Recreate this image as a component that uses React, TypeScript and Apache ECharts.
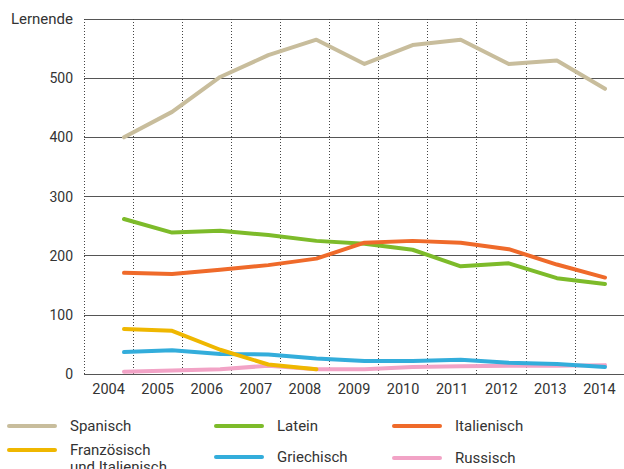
import React, { useEffect, useRef } from "react";
import * as echarts from "echarts";

const years = ["2004", "2005", "2006", "2007", "2008", "2009", "2010", "2011", "2012", "2013", "2014"];
const spanisch = [400, 443, 502, 539, 565, 524, 556, 565, 524, 530, 482];
const latein = [262, 239, 242, 235, 225, 220, 210, 182, 187, 162, 152];
const italienisch = [171, 169, 176, 184, 195, 222, 225, 222, 211, 185, 163];
const franzoesisch: (number | null)[] = [76, 73, 41, 16, 8, null, null, null, null, null, null];
const griechisch = [37, 40, 34, 33, 26, 22, 22, 24, 19, 17, 12];
const russisch = [4, 6, 8, 14, 8, 8, 12, 13, 14, 14, 15];
const yTicks = [0, 100, 200, 300, 400, 500, 600];

const FONT = "Roboto, 'Noto Sans', sans-serif";

export default function App() {
  const ref = useRef<HTMLDivElement>(null);
  useEffect(() => {
    if (!ref.current) return;
    const chart = echarts.init(ref.current, null, { renderer: "svg" });
    const seriesDefs = [
      { name: "Spanisch", data: spanisch, color: "#c8bd9c" },
      { name: "Russisch", data: russisch, color: "#f2a3c6" },
      { name: "Griechisch", data: griechisch, color: "#33addb" },
      { name: "Französisch\nund Italienisch", data: franzoesisch, color: "#efb700" },
      { name: "Latein", data: latein, color: "#7dbb2a" },
      { name: "Italienisch", data: italienisch, color: "#ef6a2a" },
    ];
    const legendItems = [
      { name: "Spanisch", color: "#c8bd9c", x: 7, y: 426 },
      { name: "Französisch\nund Italienisch", color: "#efb700", x: 7, y: 450 },
      { name: "Latein", color: "#7dbb2a", x: 214, y: 426 },
      { name: "Griechisch", color: "#33addb", x: 214, y: 457 },
      { name: "Italienisch", color: "#ef6a2a", x: 392, y: 426 },
      { name: "Russisch", color: "#f2a3c6", x: 392, y: 458 },
    ];
    const graphic: any[] = [];
    legendItems.forEach((it) => {
      graphic.push({
        type: "line",
        shape: { x1: it.x + 2, y1: it.y, x2: it.x + 48, y2: it.y },
        style: { stroke: it.color, lineWidth: 4, lineCap: "round" },
      });
      graphic.push({
        type: "text",
        x: it.x + 63,
        y: it.y - 9,
        style: {
          text: it.name,
          fill: "#333",
          font: `15px ${FONT}`,
          lineHeight: 17,
          textVerticalAlign: "top",
        },
      });
    });
    chart.setOption({
      animation: false,
      grid: [
        { left: 84, top: 19, width: 544, height: 355, containLabel: false },
        { left: 124, top: 19, width: 481, height: 355, containLabel: false },
      ],
      xAxis: [
        {
          type: "category",
          gridIndex: 0,
          data: years,
          boundaryGap: true,
          axisLine: { show: false },
          axisTick: { show: false },
          axisLabel: { color: "#333", fontSize: 14.5, fontFamily: FONT, margin: 8 },
          splitLine: { show: true, lineStyle: { type: [1, 2], color: "#444", width: 1 } },
        },
        {
          type: "category",
          gridIndex: 1,
          data: years,
          boundaryGap: false,
          show: false,
        },
      ],
      yAxis: [
        {
          type: "value",
          gridIndex: 0,
          min: 0,
          max: 600,
          interval: 100,
          axisLine: { show: false },
          axisTick: { show: false },
          axisLabel: {
            color: "#333",
            fontSize: 14,
            fontFamily: FONT,
            margin: 11,
            formatter: (v: number) => (v === yTicks[yTicks.length - 1] ? "{t|Lernende}" : String(v)),
            rich: { t: { fontSize: 15, fontFamily: FONT, color: "#333" } },
          },
          splitLine: { show: true, lineStyle: { color: "#555", width: 1 } },
        },
        { type: "value", gridIndex: 1, min: 0, max: 600, show: false },
      ],
      graphic,
      series: seriesDefs.map((s) => ({
        type: "line",
        name: s.name,
        xAxisIndex: 1,
        yAxisIndex: 1,
        data: s.data,
        symbol: "none",
        connectNulls: false,
        lineStyle: { color: s.color, width: 4, cap: "round", join: "round" },
        itemStyle: { color: s.color },
      })),
    });
    return () => chart.dispose();
  }, []);
  return <div ref={ref} style={{ width: 624, height: 469, position: "absolute", left: 0, top: 0 }} />;
}
